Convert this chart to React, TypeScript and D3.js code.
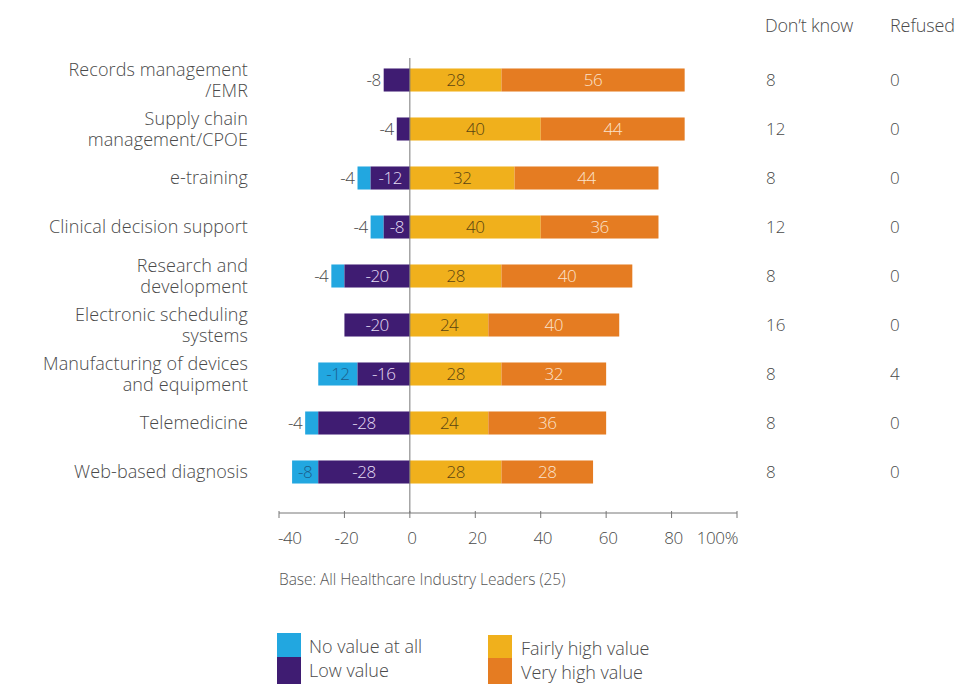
import React from "react";
import * as d3 from "d3";

const categories = [
  ["Records management", "/EMR"],
  ["Supply chain", "management/CPOE"],
  ["e-training"],
  ["Clinical decision support"],
  ["Research and", "development"],
  ["Electronic scheduling", "systems"],
  ["Manufacturing of devices", "and equipment"],
  ["Telemedicine"],
  ["Web-based diagnosis"],
];
const noValue = [0, 0, 4, 4, 4, 0, 12, 4, 8];
const lowValue = [8, 4, 12, 8, 20, 20, 16, 28, 28];
const fairlyHigh = [28, 40, 32, 40, 28, 24, 28, 24, 28];
const veryHigh = [56, 44, 44, 36, 40, 40, 32, 36, 28];
const dontKnow = [8, 12, 8, 12, 8, 16, 8, 8, 8];
const refused = [0, 0, 0, 0, 0, 0, 4, 0, 0];
const xTicks = [-40, -20, 0, 20, 40, 60, 80, 100];
// label placement: segments whose value label sits outside the bar
const lowOutside = [true, true, false, false, false, false, false, false, false];
const noValueOutside = [false, false, true, true, true, false, false, true, false];

const C = {
  no: "#22a7e0",
  low: "#3f1c72",
  fair: "#f0b01c",
  very: "#e57c22",
};
const FONT = "'Open Sans', sans-serif";

export default function App() {
  const x = d3.scaleLinear().domain([-40, 100]).range([279, 737]);
  const y = d3
    .scaleBand()
    .domain(categories.map((_, i) => String(i)))
    .range([55.5, 496.5])
    .paddingInner(0.53)
    .paddingOuter(0.265);
  const bw = y.bandwidth();
  const axisY = 513;
  const txt = "#4a4a4a";
  const barFs = 17;
  const barLs = -0.5;

  return (
    <svg
      width={963}
      height={684}
      style={{ position: "absolute", left: 0, top: 0, background: "#fff" }}
      fontFamily={FONT}
      fontWeight={300}
    >
      <text x={765} y={26} dy="0.35em" fontSize={18} fill={txt} letterSpacing={-0.2}>Don’t know</text>
      <text x={890} y={26} dy="0.35em" fontSize={18} fill={txt} letterSpacing={-0.1}>Refused</text>

      {categories.map((lines, i) => {
        const y0 = y(String(i))!;
        const cy = y0 + bw / 2;
        const x0 = x(0);
        const xl = x(-lowValue[i]);
        const xn = x(-lowValue[i] - noValue[i]);
        const xf = x(fairlyHigh[i]);
        const xv = x(fairlyHigh[i] + veryHigh[i]);
        const lh = 21;
        const startY = cy - ((lines.length - 1) * lh) / 2;
        return (
          <g key={i}>
            <text textAnchor="end" fontSize={18} fill={txt} letterSpacing={0.1}>
              {lines.map((l, k) => (
                <tspan key={k} x={248} y={startY + k * lh} dy="0.35em">
                  {l}
                </tspan>
              ))}
            </text>
            {noValue[i] > 0 && (
              <rect x={xn} y={y0} width={xl - xn} height={bw} fill={C.no} />
            )}
            {lowValue[i] > 0 && (
              <rect x={xl} y={y0} width={x0 - xl} height={bw} fill={C.low} />
            )}
            <rect x={x0} y={y0} width={xf - x0} height={bw} fill={C.fair} />
            <rect x={xf} y={y0} width={xv - xf} height={bw} fill={C.very} />

            {noValue[i] > 0 &&
              (noValueOutside[i] ? (
                <text x={xn - 3} y={cy} dy="0.35em" textAnchor="end" fontSize={barFs} fill={txt} letterSpacing={barLs}>
                  {-noValue[i]}
                </text>
              ) : (
                <text x={(xn + xl) / 2} y={cy} dy="0.35em" textAnchor="middle" fontSize={barFs} fill="#1b5e8c" letterSpacing={barLs}>
                  {-noValue[i]}
                </text>
              ))}
            {lowValue[i] > 0 &&
              (lowOutside[i] ? (
                <text x={xl - 3} y={cy} dy="0.35em" textAnchor="end" fontSize={barFs} fill={txt} letterSpacing={barLs}>
                  {-lowValue[i]}
                </text>
              ) : (
                <text x={(xl + x0) / 2} y={cy} dy="0.35em" textAnchor="middle" fontSize={barFs} fill="#e6def5" letterSpacing={barLs}>
                  {-lowValue[i]}
                </text>
              ))}
            <text x={(x0 + xf) / 2} y={cy} dy="0.35em" textAnchor="middle" fontSize={barFs} fill="#5a4412" letterSpacing={barLs}>
              {fairlyHigh[i]}
            </text>
            <text x={(xf + xv) / 2} y={cy} dy="0.35em" textAnchor="middle" fontSize={barFs} fill="#fbe3cc" letterSpacing={barLs}>
              {veryHigh[i]}
            </text>

            <text x={766} y={cy} dy="0.35em" fontSize={17} fill={txt}>{dontKnow[i]}</text>
            <text x={890} y={cy} dy="0.35em" fontSize={17} fill={txt}>{refused[i]}</text>
          </g>
        );
      })}

      <line x1={x(0)} x2={x(0)} y1={58} y2={axisY} stroke="#777" strokeWidth={1} />
      <line x1={x(-40)} x2={x(100)} y1={axisY} y2={axisY} stroke="#777" strokeWidth={1} />
      {xTicks.map((t, k) => {
        const first = k === 0;
        const last = k === xTicks.length - 1;
        return (
          <g key={t}>
            <line x1={x(t)} x2={x(t)} y1={axisY - 2} y2={axisY + 5} stroke="#777" />
            <text
              x={first ? x(t) - 1 : last ? x(t) + 1 : x(t) + 2}
              y={538}
              dy="0.35em"
              textAnchor={first ? "start" : last ? "end" : "middle"}
              fontSize={17}
              fill={txt}
              letterSpacing={-0.4}
            >
              {last ? `${t}%` : t}
            </text>
          </g>
        );
      })}
      <text x={279} y={580} dy="0.35em" fontSize={15.5} fill="#555" letterSpacing={-0.05}>
        Base: All Healthcare Industry Leaders (25)
      </text>

      <rect x={277} y={633} width={24} height={24} fill={C.no} />
      <rect x={277} y={657} width={24} height={27} fill={C.low} />
      <text x={309} y={647} dy="0.35em" fontSize={18} fill={txt}>No value at all</text>
      <text x={309} y={671} dy="0.35em" fontSize={18} fill={txt}>Low value</text>
      <rect x={488} y={635} width={24} height={23} fill={C.fair} />
      <rect x={488} y={658} width={24} height={26} fill={C.very} />
      <text x={521} y={649} dy="0.35em" fontSize={18} fill={txt}>Fairly high value</text>
      <text x={521} y={673} dy="0.35em" fontSize={18} fill={txt}>Very high value</text>
    </svg>
  );
}
